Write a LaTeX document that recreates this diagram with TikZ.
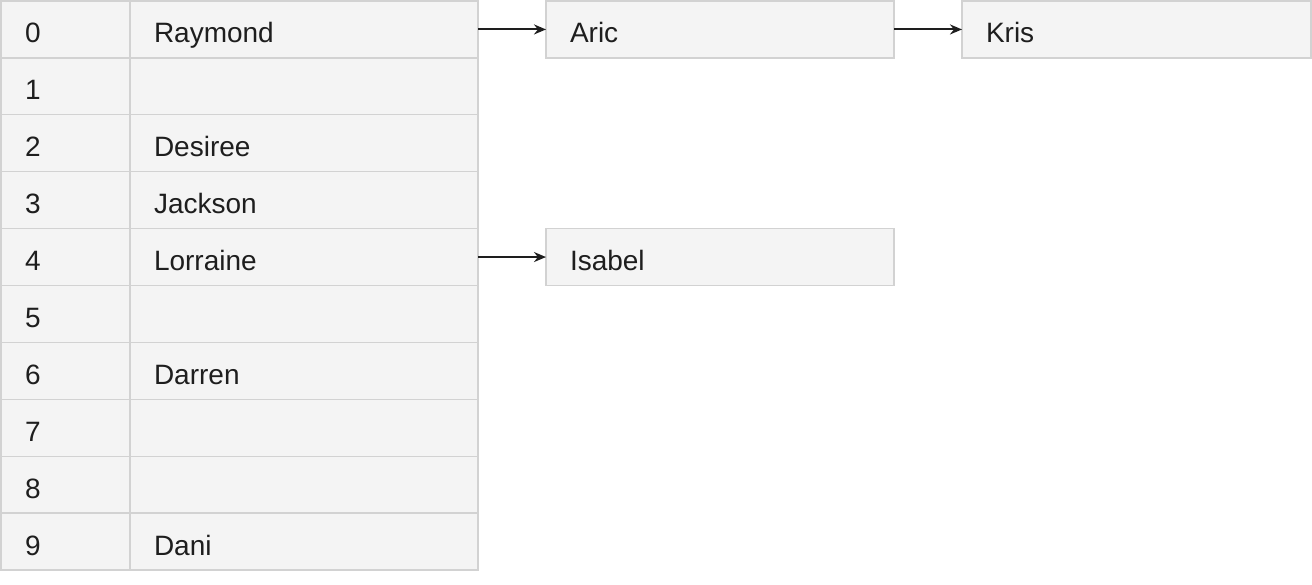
\documentclass[tikz,border=0pt]{standalone}
\usepackage{fontspec}
\setmainfont{Liberation Sans}
\usetikzlibrary{arrows.meta}
\definecolor{cellgray}{HTML}{F4F4F4}
\definecolor{bordergray}{HTML}{D2D2D2}
\definecolor{inkgray}{HTML}{1E1E1E}
\tikzset{
  cell/.style={draw=bordergray, fill=cellgray, line width=1.3pt, anchor=north west,
    minimum height=56.9pt, inner ysep=0pt, inner xsep=24pt, outer sep=0pt,
    text height=27pt, text depth=0pt, align=left, text=inkgray,
    font=\fontsize{28}{30}\selectfont},
  idxcell/.style={cell, text width=81pt, minimum width=129pt},
  valcell/.style={cell, text width=300pt, minimum width=348pt},
  link/.style={draw=inkgray, line width=2pt, -{Stealth[length=12pt,width=10pt]}}
}
\begin{document}
\begin{tikzpicture}[x=1pt,y=-1pt]
\useasboundingbox (0,0) rectangle (1312,585);
\foreach \i/\v in {0/Raymond,1/,2/Desiree,3/Jackson,4/Lorraine,5/,6/Darren,7/,8/,9/Dani}{
  \node[idxcell] (idx\i) at (1,{1+56.9*\i}) {\i};
  \node[valcell] (val\i) at (130,{1+56.9*\i}) {\v};
}
\node[valcell] (aric) at (546,1) {Aric};
\node[valcell, minimum width=349pt, text width=301pt] (kris) at (962,1) {Kris};
\node[valcell] (isabel) at (546,{1+56.9*4}) {Isabel};
\draw[link] (val0.east) -- (aric.west);
\draw[link] (aric.east) -- (kris.west);
\draw[link] (val4.east) -- (isabel.west);
\end{tikzpicture}
\end{document}
